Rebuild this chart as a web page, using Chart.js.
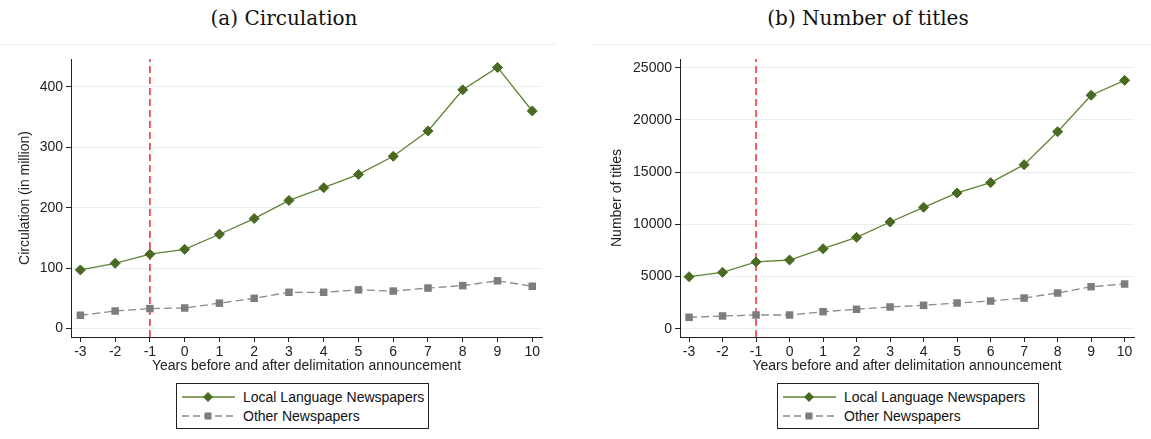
<!DOCTYPE html>
<html>
<head>
<meta charset="utf-8">
<script src="https://cdn.jsdelivr.net/npm/chart.js@4.4.1/dist/chart.umd.min.js"></script>
<style>
    body { margin:0; background:#fff; width:1151px; height:439px; overflow:hidden; position:relative; font-family:"Liberation Sans", Arial, sans-serif; }
    .title { position:absolute; top:5px; font-family:"DejaVu Serif", serif; font-size:20px; line-height:26px; color:#111; text-align:center; }
    .frame { position:absolute; top:44px; height:0; border-top:1px solid #e9f1f3; }
    canvas { position:absolute; top:45px; }
    .legend { position:absolute; top:383px; height:44px; border:1px solid #222; font-size:14px; color:#111; }
    .legend .row { position:absolute; left:0; height:18px; line-height:18px; }
    .legend svg { position:absolute; left:5px; top:1px; }
    .legend span { position:absolute; left:66px; white-space:nowrap; }
</style>
</head>
<body>
<div class="title" style="left:134px;width:300px;">(a) Circulation</div>
<div class="title" style="left:718px;width:300px;">(b) Number of titles</div>
<div class="frame" style="left:0;width:556px;"></div>
<div class="frame" style="left:594px;width:557px;"></div>

<canvas id="circ" width="570" height="335" style="left:0;"></canvas>
<canvas id="titles" width="576" height="335" style="left:575px;"></canvas>

<div class="legend" style="left:176px;width:251px;" id="leg-a"></div>
<div class="legend" style="left:777px;width:260px;" id="leg-b"></div>

<script>
// years relative to the delimitation announcement
const years = [-3, -2, -1, 0, 1, 2, 3, 4, 5, 6, 7, 8, 9, 10];
const announceYear = -1;

// (a) circulation, in million
const circLocal = [97, 108, 123, 131, 156, 182, 212, 233, 255, 285, 327, 395, 432, 360];
const circOther = [22, 29, 33, 34, 42, 50, 60, 60, 64, 62, 67, 71, 79, 70];
const circTicks = [0, 100, 200, 300, 400];

// (b) number of titles
const titlesLocal = [4980, 5400, 6400, 6580, 7660, 8750, 10220, 11630, 13000, 13990, 15710, 18870, 22360, 23790];
const titlesOther = [1090, 1220, 1310, 1310, 1630, 1860, 2080, 2240, 2460, 2650, 2940, 3420, 4020, 4280];
const titleTicks = [0, 5000, 10000, 15000, 20000, 25000];

const seriesNames = ['Local Language Newspapers', 'Other Newspapers'];

const GREEN_LINE = '#5f8434';
const GREEN_MARK = '#4a6a22';
const GRAY_LINE = '#8a8a8a';
const GRAY_MARK = '#7d7d7d';
const RED = '#f01c24';
const FONT = { family: '"Liberation Sans", Arial, sans-serif', size: 14 };

function makeChart(id, local, other, yTicks, yMin, yMax, yTitle, cfg) {
    const pts = arr => arr.map((v, i) => ({ x: years[i], y: v }));
    return new Chart(document.getElementById(id), {
        type: 'line',
        data: {
            datasets: [
                {
                    label: seriesNames[0],
                    data: pts(local),
                    borderColor: GREEN_LINE,
                    borderWidth: 1.3,
                    pointStyle: 'rectRot',
                    pointRadius: 5,
                    pointBackgroundColor: GREEN_MARK,
                    pointBorderColor: GREEN_MARK,
                    pointBorderWidth: 1,
                    tension: 0
                },
                {
                    label: seriesNames[1],
                    data: pts(other),
                    borderColor: GRAY_LINE,
                    borderWidth: 1.3,
                    borderDash: [8, 4],
                    pointStyle: 'rect',
                    pointRadius: 5.3,
                    pointBackgroundColor: GRAY_MARK,
                    pointBorderColor: GRAY_MARK,
                    pointBorderWidth: 0,
                    tension: 0
                },
                {
                    label: 'announcement',
                    data: [{ x: announceYear, y: yMin }, { x: announceYear, y: yMax }],
                    borderColor: RED,
                    borderWidth: 1.4,
                    borderDash: [7, 4],
                    pointRadius: 0
                }
            ]
        },
        options: {
            responsive: false,
            animation: false,
            devicePixelRatio: 1,
            layout: { padding: { left: 0, right: cfg.padRight, top: 14, bottom: 0 } },
            plugins: { legend: { display: false }, tooltip: { enabled: false } },
            scales: {
                x: {
                    type: 'linear',
                    min: -3.27,
                    max: 10.28,
                    afterBuildTicks: s => { s.ticks = years.map(v => ({ value: v })); },
                    afterFit: s => { s.height = 43; },
                    grid: { drawOnChartArea: false, drawTicks: true, tickLength: 5, tickColor: '#222' },
                    border: { color: '#222', width: 1 },
                    ticks: { color: '#222', font: FONT, padding: 2, maxRotation: 0, autoSkip: false, callback: v => String(v) },
                    title: {
                        display: true,
                        text: 'Years before and after delimitation announcement',
                        color: '#222',
                        font: FONT,
                        padding: { top: 0, bottom: 5 }
                    }
                },
                y: {
                    min: yMin,
                    max: yMax,
                    afterBuildTicks: s => { s.ticks = yTicks.map(v => ({ value: v })); },
                    afterFit: s => { s.width = cfg.yWidth; },
                    grid: { color: '#e8eff1', lineWidth: 1, drawTicks: true, tickLength: 5, tickColor: '#222' },
                    border: { color: '#222', width: 1 },
                    ticks: { color: '#222', font: FONT, padding: 3, callback: v => String(v) },
                    title: {
                        display: true,
                        text: yTitle,
                        color: '#222',
                        font: FONT,
                        padding: { top: cfg.titlePad, bottom: 0 }
                    }
                }
            }
        }
    });
}

makeChart('circ', circLocal, circOther, circTicks, -14, 446, 'Circulation (in million)',
    { yWidth: 71, padRight: 28, titlePad: 17 });
makeChart('titles', titlesLocal, titlesOther, titleTicks, -795, 25833, 'Number of titles',
    { yWidth: 105, padRight: 17, titlePad: 34 });

// legend boxes, same for both panels
function buildLegend(id) {
    const box = document.getElementById(id);
    const rows = [
        { top: 4, color: GREEN_LINE, mark: GREEN_MARK, dash: '', shape: 'diamond' },
        { top: 23, color: GRAY_LINE, mark: GRAY_MARK, dash: '7,4', shape: 'square' }
    ];
    rows.forEach((r, i) => {
        const row = document.createElement('div');
        row.className = 'row';
        row.style.top = r.top + 'px';
        const marker = r.shape === 'diamond'
            ? `<polygon points="26,3 31,8 26,13 21,8" fill="${r.mark}"/>`
            : `<rect x="22.5" y="4.5" width="7" height="7" fill="${r.mark}"/>`;
        row.innerHTML = `<svg width="56" height="16"><line x1="0" y1="8" x2="53" y2="8" stroke="${r.color}" stroke-width="1.3" ${r.dash ? `stroke-dasharray="${r.dash}"` : ''}/>${marker}</svg><span>${seriesNames[i]}</span>`;
        box.appendChild(row);
    });
}
buildLegend('leg-a');
buildLegend('leg-b');
</script>
</body>
</html>
